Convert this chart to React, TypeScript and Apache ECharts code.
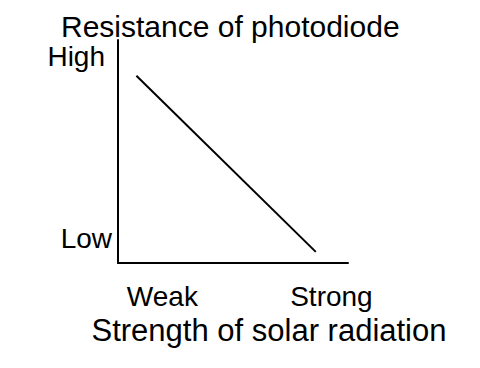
import React, { useEffect, useRef } from "react";
import * as echarts from "echarts";

const titleText = "Resistance of photodiode";
const xAxisName = "Strength of solar radiation";
const xPoints = [0.08, 0.86];
const yPoints = [0.84, 0.05];
const yTickValues = [0.108, 0.926];
const yTickLabels = ["Low", "High"];
const xTickValues = [0.193, 0.928];
const xTickLabels = ["Weak", "Strong"];

const FONT = "'Liberation Sans', Arial, Helvetica, sans-serif";

export default function App() {
  const ref = useRef<HTMLDivElement>(null);
  useEffect(() => {
    document.body.style.margin = "0";
    const chart = echarts.init(ref.current!, null, { renderer: "svg" });
    chart.setOption({
      animation: false,
      backgroundColor: "#ffffff",
      title: {
        text: titleText,
        left: 56,
        top: 6,
        textStyle: { fontFamily: FONT, fontSize: 30, fontWeight: "normal", color: "#000" },
      },
      grid: { left: 118, top: 40, right: 132, bottom: 105 },
      xAxis: {
        type: "value",
        min: 0,
        max: 1,
        name: xAxisName,
        nameLocation: "middle",
        nameGap: 49,
        nameTextStyle: {
          fontFamily: FONT,
          fontSize: 31,
          color: "#000",
          padding: [0, 0, 0, 72],
        },
        splitLine: { show: false },
        axisTick: { show: false },
        axisLine: { show: true, lineStyle: { color: "#000", width: 2 } },
        axisLabel: {
          customValues: xTickValues,
          formatter: (v: number) => {
            const i = xTickValues.findIndex((t) => Math.abs(t - v) < 1e-6);
            return i >= 0 ? xTickLabels[i] : "";
          },
          fontFamily: FONT,
          fontSize: 28,
          color: "#000",
          margin: 19,
        },
      },
      yAxis: {
        type: "value",
        min: 0,
        max: 1,
        splitLine: { show: false },
        axisTick: { show: false },
        axisLine: { show: true, lineStyle: { color: "#000", width: 2 } },
        axisLabel: {
          customValues: yTickValues,
          formatter: (v: number) => {
            const i = yTickValues.findIndex((t) => Math.abs(t - v) < 1e-6);
            if (i < 0) return "";
            return i === 0 ? "{lo|" + yTickLabels[i] + "}" : "{hi|" + yTickLabels[i] + "}";
          },
          fontFamily: FONT,
          fontSize: 28,
          color: "#000",
          margin: 6,
          rich: {
            lo: { fontFamily: FONT, fontSize: 28, color: "#000" },
            hi: { fontFamily: FONT, fontSize: 28, color: "#000", padding: [0, 7, 0, 0] },
          },
        },
      },
      series: [
        {
          type: "line",
          data: xPoints.map((x, i) => [x, yPoints[i]]),
          symbol: "none",
          lineStyle: { color: "#000", width: 2 },
        },
      ],
    });
    return () => chart.dispose();
  }, []);
  return <div ref={ref} style={{ width: 480, height: 368 }} />;
}
